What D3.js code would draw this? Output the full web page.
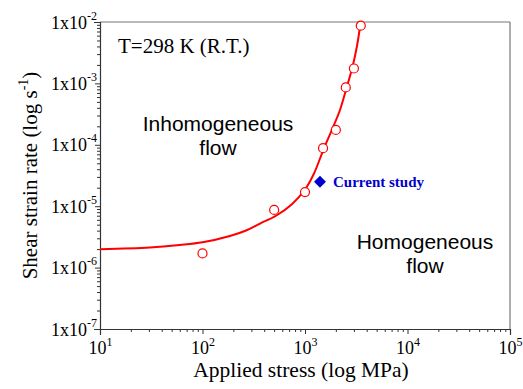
<!DOCTYPE html>
<html>
<head>
<meta charset="utf-8">
<script src="https://cdnjs.cloudflare.com/ajax/libs/d3/7.8.5/d3.min.js"></script>
<style>
  body { margin: 0; background: #fff; }
  svg { display: block; }
  .serif { font-family: "Times New Roman", "Liberation Serif", serif; }
  .sans { font-family: Arial, "Liberation Sans", sans-serif; }
</style>
</head>
<body>
<svg id="drawing_region"></svg>
<script>
// measured points (open circles)
const stressData = [100, 500, 1000, 1500, 2000, 2500, 3000, 3500];
const rateData = [1.7e-6, 8.7e-6, 1.7e-5, 8.8e-5, 1.75e-4, 8.6e-4, 1.75e-3, 8.7e-3];

// fitted curve
const fitStress = [10, 30.7, 60, 100, 185, 266, 364, 526, 750, 1000, 1224, 1508, 1834, 2195, 2541, 2906, 3215, 3493];
const fitRate = [1.99e-6, 2.12e-6, 2.33e-6, 2.58e-6, 3.27e-6, 4.02e-6, 5.22e-6, 7.06e-6, 1.09e-5, 1.87e-5, 3.41e-5, 8.22e-5, 1.77e-4, 3.69e-4, 8.41e-4, 1.85e-3, 4.06e-3, 1.0e-2];

// current study
const currentStress = [1400];
const currentRate = [2.5e-5];

const config = {
    parent: '#drawing_region',
    width: 523,
    height: 389,
    margin: { top: 22, right: 13, bottom: 60, left: 100 }
};

const svg = d3.select(config.parent)
    .attr('width', config.width)
    .attr('height', config.height);

const inner_width = config.width - config.margin.left - config.margin.right;
const inner_height = config.height - config.margin.top - config.margin.bottom;

const chart = svg.append('g')
    .attr('transform', `translate(${config.margin.left}, ${config.margin.top})`);

const xscale = d3.scaleLog()
    .domain([10, 1e5])
    .range([0, inner_width]);

const yscale = d3.scaleLog()
    .domain([1e-7, 1e-2])
    .range([inner_height, 0]);

// log ticks 1..9 per decade
const logTicks = (lo, hi) => {
    let t = [];
    for (let e = lo; e < hi; e++)
        for (let m = 1; m < 10; m++) t.push(m * Math.pow(10, e));
    t.push(Math.pow(10, hi));
    return t;
};
const isMajor = v => Math.abs(Math.log10(v) - Math.round(Math.log10(v))) < 1e-9;

// frame: top and right in grey
chart.append('line')
    .attr('x1', 0).attr('x2', inner_width).attr('y1', 0).attr('y2', 0)
    .attr('stroke', '#777').attr('stroke-width', 1.2);
chart.append('line')
    .attr('x1', inner_width).attr('x2', inner_width).attr('y1', 0).attr('y2', inner_height)
    .attr('stroke', '#777').attr('stroke-width', 1.2);

// x axis
const xaxis = d3.axisBottom(xscale)
    .tickValues(logTicks(1, 5))
    .tickSize(6)
    .tickFormat('');
const xaxis_group = chart.append('g')
    .attr('transform', `translate(0, ${inner_height})`)
    .call(xaxis);
xaxis_group.select('.domain').attr('stroke', '#333').attr('stroke-width', 1.2);
xaxis_group.selectAll('.tick line')
    .attr('stroke', '#333')
    .attr('y2', d => isMajor(d) ? 5 : 3);
xaxis_group.selectAll('.tick')
    .filter(d => isMajor(d))
    .append('text')
    .attr('class', 'serif')
    .attr('fill', '#000')
    .attr('y', 25)
    .attr('text-anchor', 'middle')
    .style('font-size', '18px')
    .each(function(d) {
        const t = d3.select(this);
        t.append('tspan').text('10');
        t.append('tspan').attr('dy', -8).style('font-size', '12px').text(Math.round(Math.log10(d)));
    });

// y axis
const yaxis = d3.axisLeft(yscale)
    .tickValues(logTicks(-7, -2))
    .tickSize(6)
    .tickFormat('');
const yaxis_group = chart.append('g').call(yaxis);
yaxis_group.select('.domain').attr('stroke', '#333').attr('stroke-width', 1.2);
yaxis_group.selectAll('.tick line')
    .attr('stroke', '#333')
    .attr('x2', d => isMajor(d) ? -5 : -3);
yaxis_group.selectAll('.tick')
    .filter(d => isMajor(d))
    .append('text')
    .attr('class', 'serif')
    .attr('fill', '#000')
    .attr('x', -3)
    .attr('y', 6)
    .attr('text-anchor', 'end')
    .style('font-size', '18px')
    .each(function(d) {
        const t = d3.select(this);
        t.append('tspan').text('1x10');
        t.append('tspan').attr('dy', -9).style('font-size', '12px').text(Math.round(Math.log10(d)));
    });

// axis titles
svg.append('text')
    .attr('class', 'serif')
    .attr('x', 301)
    .attr('y', 377)
    .attr('text-anchor', 'middle')
    .style('font-size', '21.5px')
    .text('Applied stress (log MPa)');

const ytitle = svg.append('text')
    .attr('class', 'serif')
    .attr('transform', `translate(37, ${config.margin.top + inner_height / 2}) rotate(-90)`)
    .attr('text-anchor', 'middle')
    .style('font-size', '21px');
ytitle.append('tspan').text('Shear strain rate (log s');
ytitle.append('tspan').attr('dy', -9).style('font-size', '14px').text('-1');
ytitle.append('tspan').attr('dy', 9).text(')');

// fitted line
const line = d3.line()
    .x(d => xscale(d[0]))
    .y(d => yscale(d[1]))
    .curve(d3.curveCatmullRom.alpha(0.5));

chart.append('path')
    .datum(fitStress.map((s, i) => [s, fitRate[i]]))
    .attr('d', line)
    .attr('fill', 'none')
    .attr('stroke', '#ff0000')
    .attr('stroke-width', 2);

// data circles
chart.selectAll('circle')
    .data(stressData.map((s, i) => [s, rateData[i]]))
    .enter()
    .append('circle')
    .attr('cx', d => xscale(d[0]))
    .attr('cy', d => yscale(d[1]))
    .attr('r', 4.5)
    .attr('fill', 'white')
    .attr('stroke', '#ff0000')
    .attr('stroke-width', 1.2);

// current study
chart.selectAll('.current')
    .data(currentStress.map((s, i) => [s, currentRate[i]]))
    .enter()
    .append('path')
    .attr('class', 'current')
    .attr('transform', d => `translate(${xscale(d[0])}, ${yscale(d[1])})`)
    .attr('d', d3.symbol().type(d3.symbolDiamond2).size(90))
    .attr('fill', '#0000cc');

// annotations
svg.append('text')
    .attr('class', 'serif')
    .attr('x', 333).attr('y', 187)
    .attr('fill', '#0000cc')
    .style('font-size', '15px')
    .style('font-weight', 'bold')
    .text('Current study');

svg.append('text')
    .attr('class', 'serif')
    .attr('x', 118).attr('y', 53)
    .style('font-size', '21px')
    .text('T=298 K (R.T.)');

const labels = [
    { x: 218, y: 131, lines: ['Inhomogeneous', 'flow'] },
    { x: 425, y: 249, lines: ['Homogeneous', 'flow'] }
];
labels.forEach(l => {
    const t = svg.append('text')
        .attr('class', 'sans')
        .attr('text-anchor', 'middle')
        .style('font-size', '21px');
    l.lines.forEach((s, i) => {
        t.append('tspan').attr('x', l.x).attr('y', l.y + i * 24).text(s);
    });
});
</script>
</body>
</html>
